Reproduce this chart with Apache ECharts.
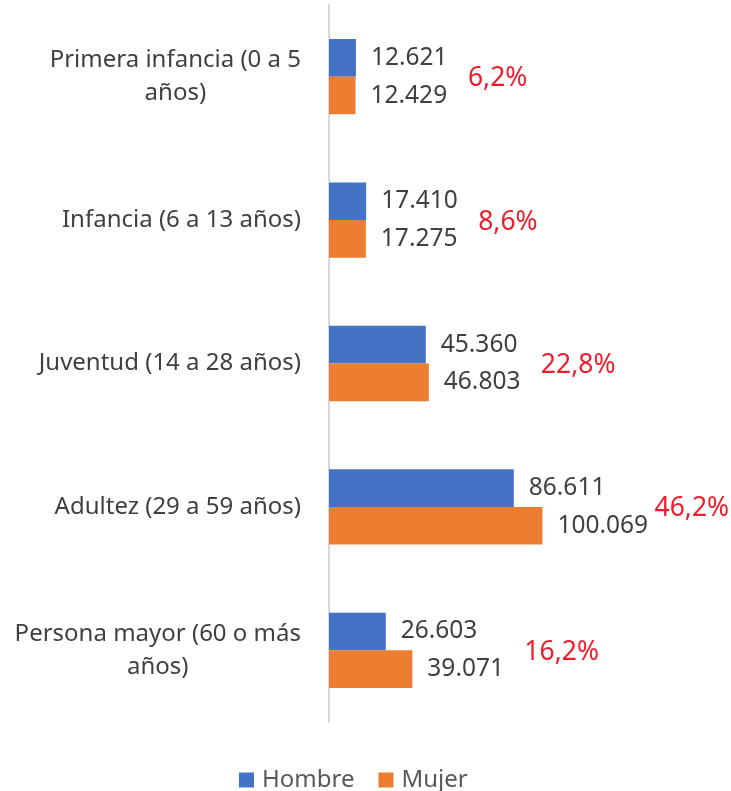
<!DOCTYPE html>
<html>
<head>
<meta charset="utf-8">
<script src="https://cdn.jsdelivr.net/npm/echarts@6/dist/echarts.min.js"></script>
<style>
  html, body {margin: 0; padding: 0; background: #fff;}
  #chart {width: 731px; height: 791px;}
</style>
</head>
<body>
<div id="chart"></div>
<script>
const categories = [
  'Primera infancia (0 a 5\naños)',
  'Infancia (6 a 13 años)',
  'Juventud (14 a 28 años)',
  'Adultez (29 a 59 años)',
  'Persona mayor (60 o más\naños)',
];
const hombre = [12621, 17410, 45360, 86611, 26603];
const mujer = [12429, 17275, 46803, 100069, 39071];
const share = [6.2, 8.6, 22.8, 46.2, 16.2];

const FONT = '"Noto Sans", sans-serif';

// 12621 -> "12.621"
const fmt = v => String(v).replace(/\B(?=(\d{3})+(?!\d))/g, '.');

const chart = echarts.init(document.getElementById('chart'), null, {renderer: 'canvas'});

chart.setOption({
  backgroundColor: '#fff',
  animation: false,
  grid: {left: 329, right: 82, top: 5, bottom: 69, containLabel: false},
  xAxis: {
    type: 'value',
    min: 0,
    max: 150000,
    show: false,
  },
  yAxis: {
    type: 'category',
    data: categories,
    inverse: true,
    axisLine: {show: true, lineStyle: {color: '#d9d9d9', width: 2}},
    axisTick: {show: false},
    axisLabel: {
      margin: 28,
      color: '#404040',
      fontFamily: FONT,
      fontSize: 24,
      lineHeight: 33,
      formatter: v => v.split('\n').map(s => '{c|' + s + '}').join('\n'),
      rich: {c: {align: 'center', fontFamily: FONT, fontSize: 24, lineHeight: 33, color: '#404040'}},
    },
  },
  legend: {
    data: ['Hombre', 'Mujer'],
    left: 234,
    top: 763,
    itemWidth: 15,
    itemHeight: 15,
    itemGap: 24,
    icon: 'rect',
    textStyle: {color: '#595959', fontFamily: FONT, fontSize: 24, padding: [0, 0, 0, 3]},
  },
  series: [
    {
      name: 'Hombre',
      type: 'bar',
      data: hombre,
      barGap: '0%',
      barCategoryGap: '47.5%',
      itemStyle: {color: '#4472c4'},
      label: {
        show: true, position: 'right', distance: 15,
        color: '#404040', fontFamily: FONT, fontSize: 24.5,
        formatter: p => fmt(p.value),
      },
    },
    {
      name: 'Mujer',
      type: 'bar',
      data: mujer,
      barGap: '0%',
      barCategoryGap: '47.5%',
      itemStyle: {color: '#ed7d31'},
      label: {
        show: true, position: 'right', distance: 15,
        color: '#404040', fontFamily: FONT, fontSize: 24.5,
        formatter: p => fmt(p.value),
      },
    },
    {
      // share of total, placed to the right of the longer bar
      name: 'share',
      type: 'custom',
      data: categories.map((c, i) => [Math.max(hombre[i], mujer[i]), i]),
      encode: {x: 0, y: 1},
      silent: true,
      renderItem: (params, api) => {
        const pt = api.coord([api.value(0), api.value(1)]);
        return {
          type: 'text',
          x: pt[0] + 112,
          y: pt[1] + 2,
          style: {
            text: String(share[params.dataIndex]).replace('.', ',') + '%',
            fill: '#ee1d2b',
            font: '26.5px ' + FONT,
            textAlign: 'left',
            textVerticalAlign: 'middle',
          },
        };
      },
    },
  ],
});
</script>
</body>
</html>
